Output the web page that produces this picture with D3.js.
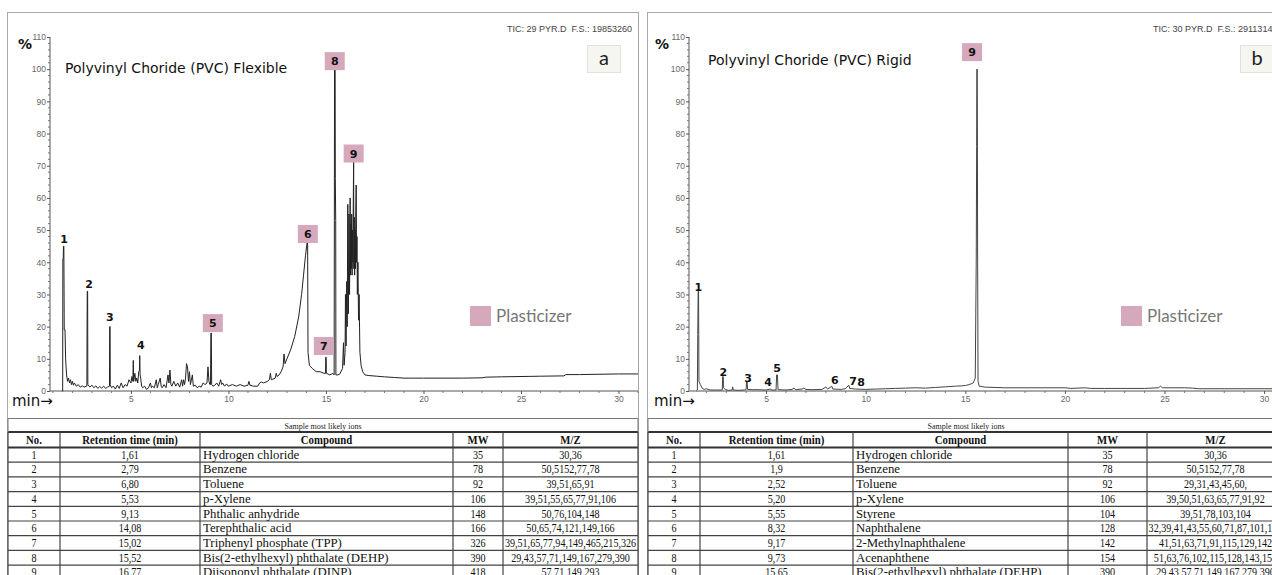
<!DOCTYPE html>
<html><head><meta charset="utf-8">
<script src="https://cdn.jsdelivr.net/npm/d3@7"></script>
<style>
html,body{margin:0;padding:0;background:#fff;}
svg{display:block;}
</style></head>
<body>
<svg id="c" width="1272" height="575"></svg>
<script>
// ---------- DATA ----------
const yTicks = [0,10,20,30,40,50,60,70,80,90,100,110];
const xTicks = [5,10,15,20,25,30];

// Panel a chromatogram (time min, intensity %)
const traceA = [[1.47,0],[1.50,0],[1.51,41],[1.53,41],[1.54,45],[1.56,45],[1.58,19],[1.62,19],[1.65,10],[1.70,5],[1.75,3],[1.8,4],[1.85,2.5],[1.9,3.5],[1.95,2],[2.0,3],[2.05,1.8],[2.1,2.5],[2.2,1.5],[2.3,2],[2.4,1.2],[2.5,1.6],[2.6,1.2],[2.7,1.5],[2.74,1.5],[2.75,19],[2.76,31],[2.78,31],[2.79,2],[2.85,1.5],[2.9,1.2],[3.0,1.8],[3.1,1],[3.2,1.6],[3.3,0.8],[3.4,1.4],[3.5,0.9],[3.6,1.5],[3.7,0.8],[3.8,1.2],[3.9,1.5],[3.91,20],[3.93,20],[3.94,2],[4.0,1],[4.1,1.5],[4.2,0.6],[4.3,1.8],[4.4,0.8],[4.5,2.5],[4.6,1],[4.7,2],[4.8,1.5],[4.9,3.5],[5.0,2.5],[5.05,4.5],[5.1,3],[5.12,9.5],[5.14,3],[5.2,5.5],[5.25,3],[5.3,4],[5.35,2.5],[5.4,6],[5.44,6.5],[5.45,11],[5.47,5],[5.5,4],[5.55,1.5],[5.6,1],[5.7,1.5],[5.8,0.5],[5.9,1],[6.0,2.5],[6.05,1],[6.1,1.5],[6.2,1],[6.3,3.5],[6.35,1],[6.4,2],[6.5,4],[6.55,1.5],[6.6,1],[6.7,2],[6.8,1],[6.9,5],[6.95,2.5],[7.0,6.5],[7.05,2],[7.1,1.5],[7.2,3],[7.3,1.5],[7.4,2.5],[7.5,1.2],[7.6,3.5],[7.65,1.5],[7.7,3.5],[7.75,2],[7.8,4],[7.85,8.5],[7.9,7.5],[7.95,3],[8.0,6],[8.05,2],[8.15,5],[8.2,1.5],[8.3,1.8],[8.4,1],[8.5,1.5],[8.6,1.2],[8.7,2.5],[8.8,2],[8.9,2.5],[8.95,7.5],[9.0,3],[9.05,2],[9.08,2],[9.1,18],[9.12,18],[9.14,2],[9.2,1.5],[9.3,1.8],[9.4,2.5],[9.5,1.5],[9.6,3.5],[9.65,2],[9.7,2.5],[9.8,1.5],[9.9,2.2],[10.0,1.5],[10.2,2],[10.4,1.5],[10.6,2],[10.8,1.5],[11.0,1.8],[11.05,3],[11.1,1.8],[11.3,1.5],[11.5,1.5],[11.6,2.5],[11.7,2.8],[11.8,2.5],[12.0,3],[12.1,3.5],[12.15,5.5],[12.2,3.5],[12.4,4],[12.45,5.5],[12.5,4.5],[12.6,5],[12.7,6],[12.8,7.5],[12.85,11.5],[12.9,8.5],[13.0,10],[13.2,13],[13.4,17],[13.6,23],[13.75,30],[13.85,36],[13.95,42],[14.03,46],[14.06,46],[14.08,12],[14.15,8],[14.3,7],[14.5,6],[14.7,6],[14.9,5.5],[14.98,5.5],[14.99,10.5],[15.01,10.5],[15.02,5.5],[15.2,5],[15.35,5.5],[15.42,5],[15.43,53],[15.44,100],[15.47,100],[15.48,66],[15.5,53],[15.51,5],[15.6,5],[15.7,5.2],[15.85,7],[15.9,15],[15.93,8],[15.98,12],[16.0,30],[16.03,14],[16.06,34],[16.09,20],[16.12,58],[16.15,24],[16.18,55],[16.21,30],[16.24,60],[16.26,36],[16.28,52],[16.3,38],[16.32,55],[16.34,36],[16.36,50],[16.38,40],[16.4,58],[16.42,72],[16.43,38],[16.45,54],[16.47,36],[16.49,50],[16.51,38],[16.53,56],[16.55,64],[16.57,40],[16.59,48],[16.61,30],[16.64,40],[16.67,22],[16.7,30],[16.74,12],[16.8,8],[16.88,6],[17.0,5],[17.2,4.8],[17.6,4.6],[18.0,4.4],[18.5,4.2],[19,4],[19.5,4],[20,4],[21,4],[22,4],[23,4.1],[23.2,4.3],[24,4.4],[25,4.5],[26,4.6],[27.2,4.7],[27.3,5.1],[28,5.1],[29,5.2],[30,5.3],[31,5.3]];

// Panel b chromatogram
const traceB = [[1.5,0],[1.55,0.3],[1.57,17.5],[1.59,31],[1.61,31],[1.62,17.5],[1.63,3],[1.7,2],[1.8,0.8],[1.9,0.5],[2.0,0.7],[2.2,0.3],[2.5,0.3],[2.8,0.3],[2.82,4.5],[2.85,4.5],[2.86,1],[2.95,0.5],[3.1,0.2],[3.3,0.3],[3.32,1.3],[3.35,0.3],[3.6,0.2],[3.9,0.3],[4.0,0.5],[4.02,2.8],[4.05,2.8],[4.07,0.5],[4.3,0.4],[4.6,0.4],[5.0,0.3],[5.2,0.6],[5.3,0.3],[5.5,0.3],[5.53,5],[5.57,5],[5.6,0.4],[6.0,0.3],[6.3,0.5],[6.4,0.9],[6.5,0.4],[6.8,0.6],[6.9,0.9],[7.0,0.5],[7.3,0.4],[7.8,0.5],[8.0,1.2],[8.1,0.6],[8.3,1.5],[8.35,0.6],[8.8,0.5],[9.0,0.8],[9.15,1.8],[9.2,0.8],[9.5,0.6],[10,0.5],[10.5,0.6],[11,0.7],[11.5,0.8],[12,0.9],[12.5,1],[13,0.9],[13.5,1.1],[14,1.3],[14.5,1.5],[14.8,1.6],[15.0,1.7],[15.2,2],[15.4,2.5],[15.5,4],[15.55,41],[15.57,76],[15.58,100],[15.6,100],[15.62,41],[15.64,3],[15.7,1.5],[16.0,1.2],[17,1],[18,1],[19,1],[20,1],[20.3,0.8],[21,1],[21.3,0.8],[22,0.8],[24,0.8],[24.7,1],[24.8,1.5],[24.9,1],[26,1],[26.4,0.9],[26.7,0.7],[28,0.7],[30,0.7],[31,0.7]];

// Peak labels: [label, time, level, boxed]
const labelsA = [["1",1.57,47.2,false],["2",2.85,33.2,false],["3",3.92,22.7,false],["4",5.51,14,false],["5",9.2,18.3,true],["6",14.07,46,true],["7",14.89,11.2,true],["8",15.45,99.7,true],["9",16.42,71,true]];
const labelsB = [["1",1.6,32.3,false],["2",2.85,5.9,false],["3",4.1,4.0,false],["4",5.1,2.5,false],["5",5.55,7.1,false],["6",8.45,3.4,false],["7",9.37,3.1,false],["8",9.77,2.5,false],["9",15.34,102.5,true]];

const titles = ["Polyvinyl Choride (PVC) Flexible","Polyvinyl Choride (PVC) Rigid"];
const panelTags = ["a","b"];
const ticInfo = ["TIC: 29 PYR.D\u00a0\u00a0F.S.: 19853260","TIC: 30 PYR.D\u00a0\u00a0F.S.: 2911314"];
const legendLabel = "Plasticizer";

const tableCaption = "Sample most likely ions";
const tableHeaders = ["No.","Retention time (min)","Compound","MW","M/Z"];
const numbers = ["1","2","3","4","5","6","7","8","9"];
const rtA = ["1,61","2,79","6,80","5,53","9,13","14,08","15,02","15,52","16,77"];
const compoundA = ["Hydrogen chloride","Benzene","Toluene","p-Xylene","Phthalic anhydride","Terephthalic acid","Triphenyl phosphate (TPP)","Bis(2-ethylhexyl) phthalate (DEHP)","Diisononyl phthalate (DINP)"];
const mwA = ["35","78","92","106","148","166","326","390","418"];
const mzA = ["30,36","50,5152,77,78","39,51,65,91","39,51,55,65,77,91,106","50,76,104,148","50,65,74,121,149,166","39,51,65,77,94,149,465,215,326","29,43,57,71,149,167,279,390","57,71,149,293"];
const rtB = ["1,61","1,9","2,52","5,20","5,55","8,32","9,17","9,73","15,65"];
const compoundB = ["Hydrogen chloride","Benzene","Toluene","p-Xylene","Styrene","Naphthalene","2-Methylnaphthalene","Acenaphthene","Bis(2-ethylhexyl) phthalate (DEHP)"];
const mwB = ["35","78","92","106","104","128","142","154","390"];
const mzB = ["30,36","50,5152,77,78","29,31,43,45,60,","39,50,51,63,65,77,91,92","39,51,78,103,104","32,39,41,43,55,60,71,87,101,128","41,51,63,71,91,115,129,142","51,63,76,102,115,128,143,154","29,43,57,71,149,167,279,390"];

// ---------- LAYOUT ----------
const pink = "#d6a8bc";
const svg = d3.select("#c");
const serif = "'Liberation Serif', 'DejaVu Serif', serif";

function stext(g, x, y, str, font, anchor, sx){
  return g.append("text").attr("transform",`translate(${x},${y}) scale(${sx},1)`)
    .attr("text-anchor",anchor).style("font",font).attr("fill","#111").text(str);
}

const panels = [
  {left:7, right:638, axisX:50, plotRight:638, domainX:[0.85,31.0], trace:traceA, labels:labelsA, traceColor:"#222",
   titleX:65, titleY:73, tagX:587, ticX:632, ticAnchor:"end", legX:470, cols:[8,60,200,453,503,638],
   rt:rtA, comp:compoundA, mw:mwA, mz:mzA, pctX:18, minX:12},
  {left:647, right:1300, axisX:689, plotRight:1287, domainX:[1.13,31.15], trace:traceB, labels:labelsB, traceColor:"#444",
   titleX:708, titleY:65, tagX:1240, ticX:1153, ticAnchor:"start", legX:1121, cols:[648,700,853,1068,1147,1284],
   rt:rtB, comp:compoundB, mw:mwB, mz:mzB, pctX:655, minX:654}
];

panels.forEach((p,i)=>{
  const g = svg.append("g");
  const x = d3.scaleLinear().domain(p.domainX).range([p.axisX, p.plotRight]);
  const y = d3.scaleLinear().domain([0,110]).range([391,37]);

  // frame
  g.append("rect").attr("x",p.left+0.5).attr("y",12.5).attr("width",p.right-p.left).attr("height",600)
    .attr("fill","none").attr("stroke","#a8a8a8").attr("stroke-width",1);

  // y axis
  const yAxis = d3.axisLeft(y).tickValues(yTicks).tickSize(3).tickPadding(1).tickFormat(d3.format("d"));
  const ya = g.append("g").attr("transform",`translate(${p.axisX},0)`).call(yAxis);
  ya.select(".domain").attr("stroke","#555").attr("d",`M0,${y(110)}V${y(0)}`);
  ya.selectAll(".tick line").attr("stroke","#555");
  ya.selectAll(".tick text").attr("fill","#666").style("font","8.5px 'Liberation Sans', Arial, sans-serif");
  const yMinor = d3.range(0,111,2).filter(v=>v%10!==0);
  ya.selectAll(".ymin").data(yMinor).enter().append("line").attr("class","ymin")
    .attr("x1",-2).attr("x2",0).attr("y1",d=>y(d)).attr("y2",d=>y(d)).attr("stroke","#777");

  // x axis
  const xAxis = d3.axisBottom(x).tickValues(xTicks).tickSize(3).tickPadding(2).tickFormat(d3.format("d"));
  const xa = g.append("g").attr("transform",`translate(0,${y(0)})`).call(xAxis);
  xa.select(".domain").attr("stroke","#555").attr("d",`M${p.axisX},0H${p.plotRight}`);
  xa.selectAll(".tick line").attr("stroke","#555");
  xa.selectAll(".tick text").attr("fill","#666").style("font","8.5px 'Liberation Sans', Arial, sans-serif");
  const xMinor = d3.range(Math.ceil(p.domainX[0]),Math.floor(p.domainX[1])+1).filter(v=>v%5!==0);
  xa.selectAll(".xmin").data(xMinor).enter().append("line").attr("class","xmin")
    .attr("x1",d=>x(d)).attr("x2",d=>x(d)).attr("y1",0).attr("y2",2).attr("stroke","#777");

  // trace
  const clipId = "clip"+i;
  svg.append("clipPath").attr("id",clipId).append("rect")
    .attr("x",p.axisX).attr("y",20).attr("width",p.plotRight-p.axisX).attr("height",372);
  g.append("path").datum(p.trace)
    .attr("clip-path",`url(#${clipId})`)
    .attr("d",d3.line().x(d=>x(d[0])).y(d=>y(d[1])))
    .attr("fill","none").attr("stroke",p.traceColor).attr("stroke-width",1);

  // peak labels
  p.labels.forEach(l=>{
    const cx = x(l[1]), cy = y(l[2]);
    if(l[3]){
      g.append("rect").attr("x",cx-10).attr("y",cy-18).attr("width",20).attr("height",18).attr("fill",pink);
      g.append("text").attr("x",cx).attr("y",cy-5).attr("text-anchor","middle")
        .style("font","bold 11px 'DejaVu Sans', Verdana, sans-serif").attr("fill","#111").text(l[0]);
    } else {
      g.append("text").attr("x",cx).attr("y",cy).attr("text-anchor","middle").attr("dominant-baseline","central")
        .style("font","bold 11px 'DejaVu Sans', Verdana, sans-serif").attr("fill","#111").text(l[0]);
    }
  });

  // title, labels
  g.append("text").attr("x",p.titleX).attr("y",p.titleY).style("font","14px 'DejaVu Sans', Verdana, sans-serif")
    .attr("fill","#111").text(titles[i]);
  g.append("text").attr("x",p.pctX).attr("y",49).style("font","bold 14px 'DejaVu Sans', Verdana, sans-serif")
    .attr("fill","#111").text("%");
  g.append("text").attr("x",p.minX).attr("y",406).style("font","15px 'DejaVu Sans', Verdana, sans-serif")
    .attr("fill","#111").text("min\u2192");
  g.append("text").attr("x",p.ticX).attr("y",32).attr("text-anchor",p.ticAnchor)
    .style("font","9px 'Liberation Sans', Arial, sans-serif").attr("fill","#444").text(ticInfo[i]);
  // tag box
  g.append("rect").attr("x",p.tagX+0.5).attr("y",45.5).attr("width",33).attr("height",27)
    .attr("fill","#f6f6f1").attr("stroke","#e2e2da");
  g.append("text").attr("x",p.tagX+17).attr("y",65).attr("text-anchor","middle")
    .style("font","20px Lato, 'Open Sans', sans-serif").attr("fill","#222").text(panelTags[i]);
  // legend
  g.append("rect").attr("x",p.legX).attr("y",306).attr("width",21).attr("height",20).attr("fill",pink);
  g.append("text").attr("x",p.legX+26).attr("y",322).style("font","17px Lato, 'Open Sans', sans-serif")
    .attr("fill","#777").text(legendLabel);

  // table
  const c = p.cols, L = c[0], R = c[c.length-1];
  const tg = g.append("g");
  const rowTop = 447.5, rowH = 14.7;
  const line = (x1,y1,x2,y2,w,col)=>tg.append("line").attr("x1",x1).attr("y1",y1).attr("x2",x2).attr("y2",y2)
      .attr("stroke",col||"#444").attr("stroke-width",w||1);
  line(L,418.5,R,418.5,1,"#777");
  line(L,432,R,432,2,"#333");
  line(L,447.5,R,447.5,2,"#333");
  for(let r=1;r<10;r++) line(L,rowTop+r*rowH,R,rowTop+r*rowH,1.2,"#444");
  c.forEach(cx=>line(cx,432,cx,600,1.2,"#444"));
  line(L,418.5,L,432,1,"#777"); line(R,418.5,R,432,1,"#777");
  tg.append("text").attr("x",(L+R)/2).attr("y",428.5).attr("text-anchor","middle")
    .style("font","8px "+serif).attr("fill","#222").text(tableCaption);
  tableHeaders.forEach((h,k)=>{
    stext(tg,(c[k]+c[k+1])/2,444,h,"bold 12.5px "+serif,"middle",0.86);
  });
  const cols = [numbers,p.rt,p.comp,p.mw,p.mz];
  for(let r=0;r<9;r++){
    const ty = rowTop + r*rowH + 11.2;
    cols.forEach((arr,k)=>{
      if(k===2) stext(tg,c[k]+3,ty,arr[r],"12.8px "+serif,"start",1);
      else stext(tg,(c[k]+c[k+1])/2,ty,arr[r],"12.8px "+serif,"middle",0.79);
    });
  }
});
</script>
</body></html>
